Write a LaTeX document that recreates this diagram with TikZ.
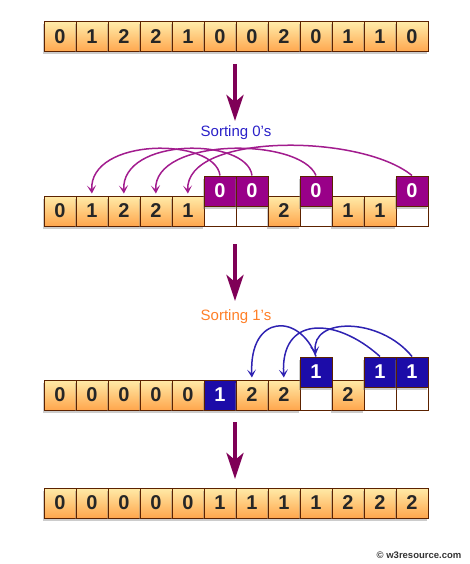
\documentclass[tikz,border=0pt]{standalone}
\usepackage{fontspec}
\setmainfont{Liberation Sans}
\usetikzlibrary{arrows.meta,shadows}
\definecolor{cellline}{HTML}{5C2200}
\definecolor{celltop}{HTML}{FFEBA8}
\definecolor{cellbot}{HTML}{FFA64D}
\definecolor{zerobox}{HTML}{990088}
\definecolor{onebox}{HTML}{1C0CA8}
\definecolor{downarrow}{HTML}{7F0057}
\definecolor{zeroarc}{HTML}{A21C8E}
\definecolor{onearc}{HTML}{2E22B2}
\definecolor{zerotext}{HTML}{2A20C8}
\definecolor{onetext}{HTML}{FF7F27}
\tikzset{
  cell/.style={draw=cellline, line width=1pt, minimum width=32pt, minimum height=30pt,
    inner sep=0pt, font=\bfseries\fontsize{20}{20}\selectfont, text=black!85},
  cellshadow/.style={drop shadow={shadow xshift=-1pt, shadow yshift=-2.5pt, opacity=0.4}},
  plaincell/.style={cell, top color=celltop, bottom color=cellbot, cellshadow},
  blankcell/.style={cell, fill=white},
  zerocell/.style={cell, fill=zerobox, text=white, cellshadow},
  onecell/.style={cell, fill=onebox, text=white, cellshadow},
  bigarrow/.style={draw=downarrow, line width=4pt, -{Stealth[length=26pt,width=17pt,inset=7pt]}},
  zeroarrow/.style={draw=zeroarc, line width=1.5pt, -{Stealth[length=8pt,width=9pt,inset=4pt]}, shorten >=2pt},
  onearrow/.style={draw=onearc, line width=1.5pt, -{Stealth[length=8pt,width=9pt,inset=4pt]}, shorten >=2pt},
}
\begin{document}
\begin{tikzpicture}[x=1pt,y=-1pt]
    \useasboundingbox (0,0) rectangle (469,564);

    % input row
    \foreach \v [count=\i from 0] in {0,1,2,2,1,0,0,2,0,1,1,0}
        \node[plaincell] (a\i) at (60+32*\i,37) {\v};

    \coordinate (s1) at (235,64);
    \coordinate (e1) at (235,121);
    \draw[bigarrow] (s1) -- (e1);
    \node[text=zerotext, font=\fontsize{15}{15}\selectfont] (t0) at (236,133) {Sorting 0’s};

    % after sorting 0's
    \foreach \s/\v [count=\i from 0] in {plaincell/0,plaincell/1,plaincell/2,plaincell/2,plaincell/1,
            blankcell/{},blankcell/{},plaincell/2,blankcell/{},plaincell/1,plaincell/1,blankcell/{}}
        \node[\s] (b\i) at (60+32*\i,211) {\v};
    \foreach \i in {5,6,8,11}
        \node[zerocell] (z\i) at (60+32*\i,191) {0};

    \draw[zeroarrow] (z5.north) .. controls (215,137) and (89,137) .. (b1.north);
    \draw[zeroarrow] (z6.north) .. controls (247,137) and (121,137) .. (b2.north);
    \draw[zeroarrow] (z8.north) .. controls (300,137) and (153,137) .. (b3.north);
    \draw[zeroarrow] (z11.north) .. controls (360,133) and (185,133) .. (b4.north);

    \coordinate (s2) at (235,244);
    \coordinate (e2) at (235,301);
    \draw[bigarrow] (s2) -- (e2);
    \node[text=onetext, font=\fontsize{15}{15}\selectfont] (t1) at (236,317) {Sorting 1’s};

    % after sorting 1's
    \foreach \s/\v [count=\i from 0] in {plaincell/0,plaincell/0,plaincell/0,plaincell/0,plaincell/0,
            onecell/1,plaincell/2,plaincell/2,blankcell/{},plaincell/2,blankcell/{},blankcell/{}}
        \node[\s] (c\i) at (60+32*\i,395) {\v};
    \foreach \i in {8,10,11}
        \node[onecell] (o\i) at (60+32*\i,372) {1};

    \draw[onearrow] (o8.north) .. controls (300,313) and (249,313) .. (c6.north);
    \draw[onearrow] (o10.north) .. controls (335,316) and (280,316) .. (c7.north);
    \draw[onearrow] (o11.north) .. controls (380,317) and (311,317) .. (o8.north);

    \coordinate (s3) at (235,422);
    \coordinate (e3) at (235,479);
    \draw[bigarrow] (s3) -- (e3);

    % sorted row
    \foreach \v [count=\i from 0] in {0,0,0,0,0,1,1,1,1,2,2,2}
        \node[plaincell] (d\i) at (60+32*\i,503) {\v};

    \node[font=\bfseries\fontsize{9.5}{9.5}\selectfont, text=black!80] (w3) at (419,555) {© w3resource.com};
\end{tikzpicture}
\end{document}
